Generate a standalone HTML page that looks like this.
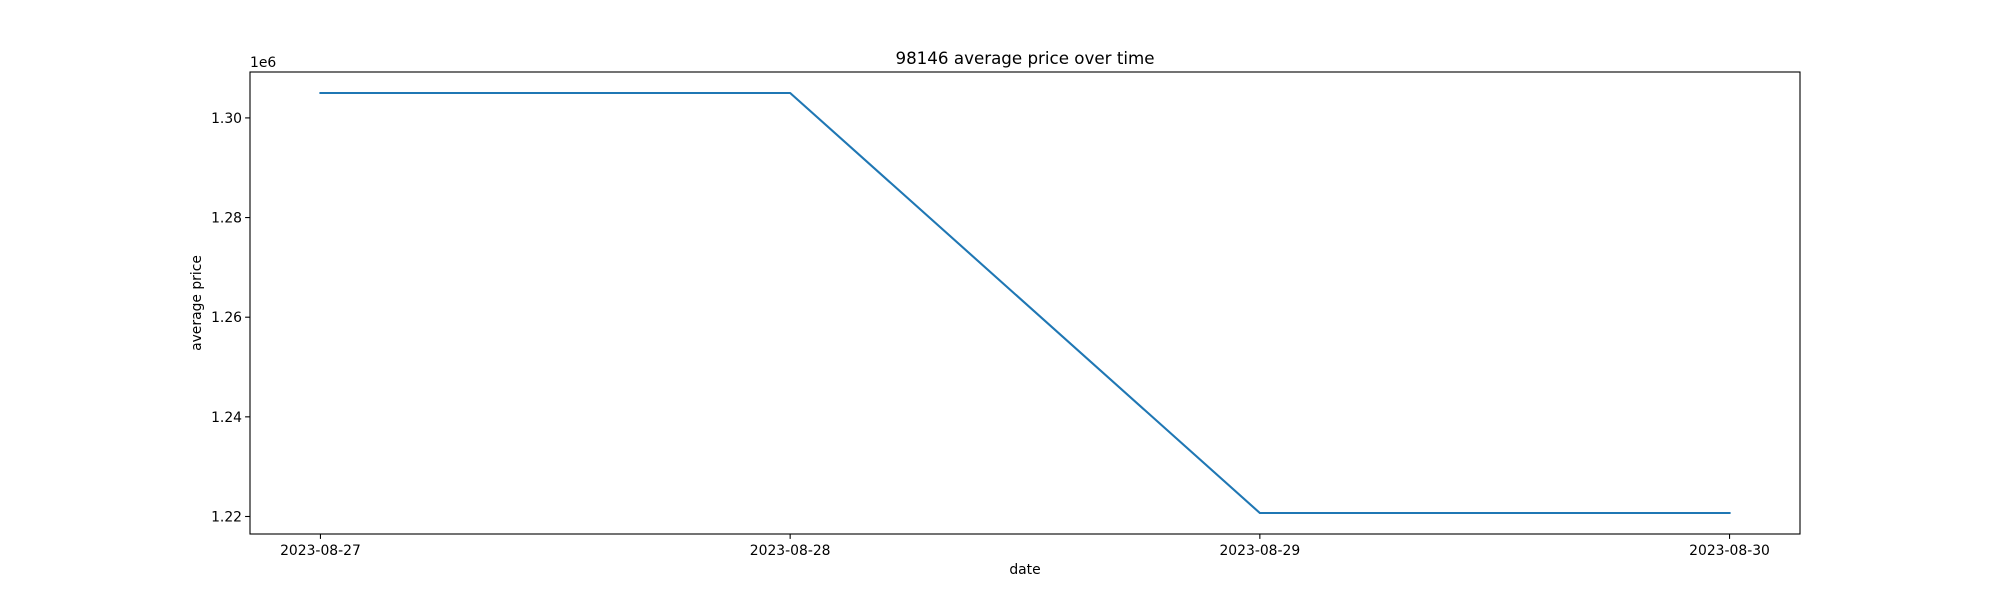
<!DOCTYPE html>
<html><head><meta charset="utf-8"><style>
html,body{margin:0;padding:0;background:#fff;}
svg{display:block;font-family:"DejaVu Sans","Liberation Sans",sans-serif;}
</style></head><body>
<svg id="chart" width="2000" height="600" xmlns="http://www.w3.org/2000/svg">
<rect width="2000" height="600" fill="#fff"/>
<text x="1025" y="64" text-anchor="middle" font-size="16.7" fill="#000">98146 average price over time</text>
<text x="1025" y="574" text-anchor="middle" font-size="13.9" fill="#000">date</text>
<text transform="translate(201,303) rotate(-90)" text-anchor="middle" font-size="13.9" fill="#000">average price</text>
<text x="250" y="67" font-size="13.9" fill="#000">1e6</text>
<g id="ticks"></g>
<polyline id="series" fill="none" stroke="#1f77b4" stroke-width="2.1" stroke-linejoin="round" stroke-linecap="square"/>
<rect x="250" y="72" width="1550" height="462" fill="none" stroke="#000" stroke-width="1.1"/>
</svg>
<script>
const categories = ["2023-08-27","2023-08-28","2023-08-29","2023-08-30"];
const values = [1.305, 1.305, 1.2207, 1.2207];
const yTicks = [1.22, 1.24, 1.26, 1.28, 1.30];
const yTickLabels = ["1.22","1.24","1.26","1.28","1.30"];

const L=250,R=1800,T=72,B=534;
const n=categories.length;
const xPad=0.05*(n-1);
const xMin=-xPad,xMax=(n-1)+xPad;
const vMin=Math.min(...values),vMax=Math.max(...values);
const d=(vMax-vMin)||1;
const yMin=vMin-0.05*d,yMax=vMax+0.05*d;
const xs=i=>L+(i-xMin)/(xMax-xMin)*(R-L);
const ys=v=>B-(v-yMin)/(yMax-yMin)*(B-T);
const NS="http://www.w3.org/2000/svg";
const g=document.getElementById('ticks');
function mk(tag,attrs){const e=document.createElementNS(NS,tag);for(const k in attrs)e.setAttribute(k,attrs[k]);return e;}
categories.forEach((c,i)=>{
  const x=xs(i);
  const t=mk('line',{x1:x,x2:x,y1:B,y2:B+4.9,stroke:'#000','stroke-width':1.1});
  
  
  g.appendChild(t);
  const l=mk('text',{x:x,y:B+21,'text-anchor':'middle','font-size':13.9,fill:'#000'});
  
  
  l.textContent=c;g.appendChild(l);
});
yTicks.forEach((v,i)=>{
  const y=ys(v);
  if(y<T-0.5||y>B+0.5)return;
  const t=mk('line',{x1:L-4.9,x2:L,y1:y,y2:y,stroke:'#000','stroke-width':1.1});
  
  
  g.appendChild(t);
  const l=mk('text',{x:L-8,y:y+5,'text-anchor':'end','font-size':13.9,fill:'#000'});
  
  
  l.textContent=yTickLabels[i];g.appendChild(l);
});
document.getElementById('series').setAttribute('points',values.map((v,i)=>xs(i)+','+ys(v)).join(' '));
</script>
</body></html>
